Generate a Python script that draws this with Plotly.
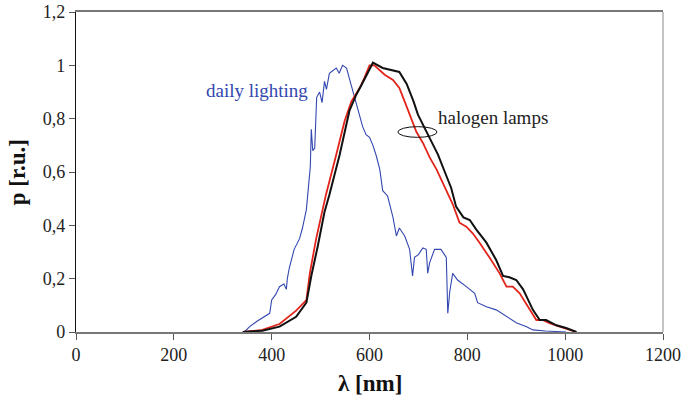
import plotly.graph_objects as go

# daily lighting (blue)
daily_nm = [344,355,370,381,388,396,400,408,416,425,430,432,436,446,457,463,471,475,479,481,
            484,488,492,498,503,508,512,518,525,532,538,545,553,559,565,570,575,586,593,600,
            607,614,621,627,637,648,655,661,672,682,688,692,700,709,716,719,723,733,746,757,
            760,764,770,780,798,815,821,839,859,880,900,921,934,960,1002]
daily_p = [0,0.02,0.04,0.053,0.06,0.07,0.12,0.14,0.17,0.18,0.16,0.2,0.24,0.31,0.35,0.39,0.46,0.55,0.62,0.76,
           0.68,0.69,0.88,0.90,0.86,0.94,0.91,0.97,0.98,0.99,0.97,1.0,0.99,0.95,0.92,0.88,0.85,0.77,0.74,0.73,
           0.70,0.66,0.61,0.53,0.51,0.43,0.36,0.39,0.36,0.31,0.21,0.28,0.29,0.315,0.31,0.22,0.26,0.31,0.31,0.28,
           0.07,0.15,0.22,0.195,0.17,0.145,0.11,0.095,0.083,0.057,0.035,0.02,0.008,0.004,0]

# halogen lamp 1 (red)
red_nm = [341,381,416,450,471,478,491,505,511,532,549,563,580,590,600,610,620,631,648,661,672,682,696,709,723,
          737,749,760,770,784,798,811,825,845,866,880,893,907,927,941,954,968,989,1009,1023]
red_p = [0,0.008,0.03,0.08,0.12,0.22,0.35,0.46,0.515,0.665,0.79,0.865,0.915,0.955,1.0,1.0,0.985,0.965,0.945,0.915,
         0.864,0.815,0.75,0.71,0.655,0.61,0.565,0.52,0.48,0.41,0.395,0.37,0.335,0.28,0.22,0.17,0.17,0.145,0.083,
         0.045,0.045,0.033,0.02,0.008,0]

# halogen lamp 2 (black)
black_nm = [341,381,416,450,471,481,494,508,518,539,559,573,586,600,607,627,648,661,676,690,
            699,713,727,740,754,767,777,792,805,818,839,859,873,886,900,914,934,948,961,982,1002,1023]
black_p = [0,0.005,0.02,0.057,0.11,0.21,0.32,0.45,0.515,0.665,0.83,0.89,0.935,0.985,1.01,0.99,0.98,0.975,0.93,0.865,
           0.815,0.765,0.715,0.665,0.60,0.54,0.47,0.43,0.42,0.385,0.335,0.27,0.21,0.205,0.195,0.16,0.083,0.045,0.045,
           0.025,0.015,0]

x_ticks = [0, 200, 400, 600, 800, 1000, 1200]
x_tick_text = ["0", "200", "400", "600", "800", "1000", "1200"]
y_ticks = [0, 0.2, 0.4, 0.6, 0.8, 1.0, 1.2]
y_tick_text = ["0", "0,2", "0,4", "0,6", "0,8", "1", "1,2"]

FONT = "Liberation Serif"

fig = go.Figure()
fig.add_trace(go.Scatter(x=daily_nm, y=daily_p, mode="lines",
                         line=dict(color="#3347b0", width=1.1), showlegend=False))
fig.add_trace(go.Scatter(x=red_nm, y=red_p, mode="lines",
                         line=dict(color="#e3241b", width=1.8), showlegend=False))
fig.add_trace(go.Scatter(x=black_nm, y=black_p, mode="lines",
                         line=dict(color="#111111", width=2), showlegend=False))

fig.add_annotation(x=369, y=0.905, xref="x", yref="y", text="daily lighting", showarrow=False,
                   xanchor="center", yanchor="middle",
                   font=dict(family=FONT, size=19, color="#3347b0"))
fig.add_annotation(x=853, y=0.805, xref="x", yref="y", text="halogen lamps", showarrow=False,
                   xanchor="center", yanchor="middle",
                   font=dict(family=FONT, size=19, color="#222222"))
fig.add_shape(type="circle", xref="x", yref="y", x0=658, x1=738, y0=0.73, y1=0.77,
              line=dict(color="#111111", width=1))
# right border
fig.add_shape(type="line", xref="paper", yref="paper", x0=1, x1=1, y0=0, y1=1,
              line=dict(color="#c4c4c4", width=2))

# axis titles
fig.add_annotation(x=0.5, y=-0.16, xref="paper", yref="paper", text="<b>λ [nm]</b>", showarrow=False,
                   xanchor="center", yanchor="middle",
                   font=dict(family=FONT, size=23, color="#111111"))
fig.add_annotation(x=-0.1, y=0.5, xref="paper", yref="paper", text="<b>p [r.u.]</b>", showarrow=False,
                   xanchor="center", yanchor="middle", textangle=-90,
                   font=dict(family=FONT, size=23, color="#111111"))

fig.update_layout(
    width=683, height=401,
    margin=dict(l=76, r=20, t=12, b=69),
    plot_bgcolor="white", paper_bgcolor="white",
    font=dict(family=FONT, size=18, color="#222222"),
    xaxis=dict(range=[0, 1200], tickvals=x_ticks, ticktext=x_tick_text, automargin=False,
               showgrid=False, zeroline=False, showline=True, linecolor="#777777", linewidth=1.5,
               mirror=True, ticks="outside", ticklen=6, tickcolor="#555555"),
    yaxis=dict(range=[0, 1.2], tickvals=y_ticks, ticktext=y_tick_text, automargin=False,
               showgrid=False, zeroline=False, showline=True, linecolor="#111111", linewidth=1.2,
               ticks="outside", ticklen=6, tickcolor="#555555"),
)

fig.write_html("out.html")
